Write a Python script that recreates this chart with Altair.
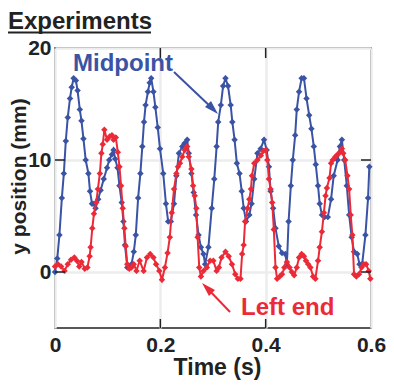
import altair as alt
import pandas as pd

# ---- data ----
mid_t = [0.000, 0.0043, 0.0084, 0.0130, 0.0168, 0.0205, 0.0242, 0.0285, 0.0317, 0.0354,
         0.0397, 0.0429, 0.0471, 0.0503, 0.0540, 0.0583, 0.0634, 0.0665, 0.0703, 0.0740,
         0.0770, 0.0820, 0.0866, 0.0926, 0.0988, 0.1030, 0.1081, 0.1112, 0.1142, 0.1187,
         0.1224, 0.1267, 0.1299, 0.1329, 0.1373, 0.1416, 0.1453, 0.1496, 0.1534, 0.1578,
         0.1621, 0.1658, 0.1690, 0.1720, 0.1765, 0.1798, 0.1826, 0.1869, 0.1906, 0.1951,
         0.1994, 0.2055, 0.2106, 0.2149, 0.2199, 0.2260, 0.2305, 0.2353, 0.2417, 0.2460,
         0.2510, 0.2540, 0.2590, 0.2633, 0.2678, 0.2726, 0.2771, 0.2819, 0.2851, 0.2913,
         0.2976, 0.3024, 0.3069, 0.3099, 0.3149, 0.3192, 0.3237, 0.3285, 0.3336, 0.3367,
         0.3410, 0.3453, 0.3503, 0.3546, 0.3583, 0.3628, 0.3690, 0.3732, 0.3783, 0.3844,
         0.3904, 0.3969, 0.4019, 0.4062, 0.4094, 0.4142, 0.4187, 0.4249, 0.4310, 0.4373,
         0.4403, 0.4435, 0.4478, 0.4515, 0.4560, 0.4590, 0.4634, 0.4683, 0.4727, 0.4776,
         0.4826, 0.4869, 0.4914, 0.4951, 0.4994, 0.5026, 0.5068, 0.5119, 0.5180, 0.5242,
         0.5292, 0.5366, 0.5410, 0.5447, 0.5491, 0.5540, 0.5585, 0.5633, 0.5678, 0.5739,
         0.5782, 0.5832, 0.5894, 0.5944, 0.5968]
mid_y = [0.0, 1.2, 3.3, 6.6, 8.8, 11.7, 13.8, 15.5, 16.5, 17.3,
         17.1, 16.2, 14.5, 13.5, 11.9, 10.0, 8.8, 7.2, 6.1, 6.1,
         5.7, 6.5, 7.3, 8.3, 9.3, 10.0, 10.5, 10.9, 10.1, 9.3,
         7.7, 6.2, 4.5, 2.4, 0.4, 0.4, 0.7, 1.8, 3.3, 6.6,
         8.8, 11.2, 13.4, 14.9, 16.1, 16.9, 17.3, 16.1, 14.7, 12.9,
         11.0, 8.8, 6.1, 4.5, 4.5, 6.1, 8.6, 10.6, 11.2, 11.5,
         11.8, 10.6, 8.8, 7.1, 5.1, 3.3, 2.2, 1.6, 0.7, 2.2,
         5.7, 8.3, 11.2, 13.4, 14.9, 16.6, 17.3, 16.6, 14.9, 13.4,
         11.8, 9.7, 8.8, 7.2, 5.7, 4.5, 5.1, 6.1, 8.3, 10.6,
         11.0, 11.8, 10.9, 9.4, 7.2, 5.7, 3.9, 2.3, 1.7, 1.6,
         0.7, 4.5, 7.7, 10.0, 12.2, 14.5, 16.1, 17.3, 17.3, 15.5,
         14.0, 12.8, 11.2, 9.6, 7.7, 6.1, 5.1, 4.9, 4.9, 6.5,
         8.6, 10.0, 11.2, 11.8, 10.0, 7.7, 5.1, 3.1, 1.8, 1.6,
         0.7, 0.7, 3.3, 6.6, 9.4]

left_t = [0.0000, 0.0056, 0.0117, 0.0181, 0.0242, 0.0304, 0.0367, 0.0416, 0.0460, 0.0503,
          0.0565, 0.0615, 0.0658, 0.0676, 0.0708, 0.0740, 0.0783, 0.0814, 0.0852, 0.0881,
          0.0907, 0.0937, 0.0988, 0.1038, 0.1081, 0.1112, 0.1155, 0.1193, 0.1224, 0.1254,
          0.1286, 0.1317, 0.1342, 0.1373, 0.1411, 0.1453, 0.1496, 0.1547, 0.1608, 0.1683,
          0.1746, 0.1807, 0.1869, 0.1919, 0.1981, 0.2031, 0.2087, 0.2137, 0.2180, 0.2217,
          0.2260, 0.2305, 0.2335, 0.2372, 0.2417, 0.2465, 0.2510, 0.2540, 0.2590, 0.2622,
          0.2652, 0.2683, 0.2708, 0.2739, 0.2771, 0.2819, 0.2883, 0.2944, 0.3006, 0.3069,
          0.3112, 0.3162, 0.3237, 0.3298, 0.3360, 0.3423, 0.3472, 0.3522, 0.3553, 0.3583,
          0.3609, 0.3658, 0.3690, 0.3721, 0.3740, 0.3783, 0.3844, 0.3908, 0.3956, 0.4001,
          0.4031, 0.4062, 0.4094, 0.4124, 0.4155, 0.4187, 0.4217, 0.4267, 0.4310, 0.4355,
          0.4403, 0.4454, 0.4497, 0.4541, 0.4590, 0.4634, 0.4683, 0.4727, 0.4765, 0.4808,
          0.4850, 0.4901, 0.4944, 0.4994, 0.5026, 0.5068, 0.5106, 0.5137, 0.5162, 0.5212,
          0.5242, 0.5273, 0.5323, 0.5366, 0.5410, 0.5447, 0.5473, 0.5510, 0.5553, 0.5585,
          0.5615, 0.5646, 0.5678, 0.5721, 0.5771, 0.5820, 0.5864, 0.5907, 0.5957, 0.5987]
left_y = [0.5, 0.7, 0.5, 0.1, 0.7, 1.1, 1.3, 1.0, 0.5, 0.9,
          0.3, 0.4, 1.4, 2.2, 3.9, 5.2, 6.2, 7.4, 8.8, 10.6,
          11.4, 12.7, 11.8, 12.1, 12.2, 11.8, 12.0, 10.7, 9.4, 7.7,
          5.7, 3.9, 2.3, 0.7, 0.3, 0.4, 0.7, 0.1, 1.0, 0.1,
          1.3, 1.6, 1.3, 0.7, 0.1, -0.7, 0.4, 1.7, 3.1, 5.3,
          7.4, 8.8, 9.4, 9.7, 10.3, 10.9, 11.2, 10.3, 9.2, 7.7,
          6.8, 5.7, 3.1, 0.4, -0.4, 0.1, 0.4, 1.0, 1.0, 0.1,
          0.4, 1.3, 1.8, 1.4, 0.7, -0.2, -0.6, -0.6, 1.6, 2.4,
          4.5, 5.7, 6.5, 7.4, 8.6, 9.7, 10.0, 10.4, 10.8, 10.9,
          10.0, 8.3, 7.4, 6.2, 3.8, 0.4, -0.6, -0.4, -0.2, 0.4,
          0.9, 0.4, 0.0, -0.3, 0.4, 1.3, 1.6, 1.4, 1.0, 0.7,
          0.4, -0.4, -0.6, 1.0, 2.2, 3.6, 5.3, 6.8, 7.5, 8.4,
          9.7, 10.0, 10.3, 10.5, 10.7, 11.0, 10.6, 10.0, 8.6, 7.4,
          5.1, 3.3, -0.2, -0.4, -0.2, 0.4, 0.7, 0.7, 0.1, -0.6]

x_ticks = [0, 0.2, 0.4, 0.6]
y_ticks = [0, 10, 20]
inner_x_ticks = [0.2, 0.4]
inner_y_ticks = [0, 10]

BLUE = "#3a53a4"
RED = "#ec2a37"
INK = "#222222"
FONT = "Liberation Sans"
W, H = 316, 280

mid_df = pd.DataFrame({"t": mid_t, "y": mid_y})
left_df = pd.DataFrame({"t": left_t, "y": left_y})

xscale = alt.Scale(domain=[0, 0.6], nice=False, zero=False)
yscale = alt.Scale(domain=[-5, 20], nice=False, zero=False)

xax = alt.Axis(values=x_ticks, format="~g", grid=True, gridColor="#ececec", gridWidth=2.5,
               ticks=False, tickSize=0, domain=False, labelFlush=False, labelOverlap=False,
               labelFont=FONT, labelFontSize=21, labelFontWeight="bold", labelColor=INK,
               labelPadding=6, title="Time (s)", titleFont=FONT, titleFontSize=23,
               titleFontWeight="bold", titleColor=INK, titleX=162, titleY=46,
               titleBaseline="alphabetic")
yax = alt.Axis(values=y_ticks, grid=True, gridColor="#ececec", gridWidth=2.5,
               ticks=False, tickSize=0, domain=False, labelFlush=False, labelOverlap=False,
               labelFont=FONT, labelFontSize=21, labelFontWeight="bold", labelColor=INK,
               labelPadding=4, title="y position (mm)", titleFont=FONT, titleFontSize=21,
               titleFontWeight="bold", titleColor=INK, titleX=-26, titleY=128,
               titleAngle=270, titleBaseline="bottom")

pt_mid = alt.OverlayMarkDef(shape="diamond", size=42, filled=True, color=BLUE, opacity=1)
pt_left = alt.OverlayMarkDef(shape="diamond", size=42, filled=True, color=RED, opacity=1)

mid_line = alt.Chart(mid_df).mark_line(color=BLUE, strokeWidth=2, point=pt_mid).encode(
    x=alt.X("t:Q", scale=xscale, axis=xax),
    y=alt.Y("y:Q", scale=yscale, axis=yax),
    order="t:Q",
)
left_line = alt.Chart(left_df).mark_line(color=RED, strokeWidth=2, point=pt_left).encode(
    x=alt.X("t:Q", scale=xscale),
    y=alt.Y("y:Q", scale=yscale),
    order="t:Q",
)

# inward ticks
xt_df = pd.DataFrame({"t": inner_x_ticks})
yt_df = pd.DataFrame({"v": inner_y_ticks})
tick_style = dict(color=INK, strokeWidth=1.5)
top_ticks = alt.Chart(xt_df).mark_rule(**tick_style).encode(
    x=alt.X("t:Q", scale=xscale), y=alt.value(0), y2=alt.value(10))
bot_ticks = alt.Chart(xt_df).mark_rule(**tick_style).encode(
    x=alt.X("t:Q", scale=xscale), y=alt.value(H), y2=alt.value(H - 9))
left_ticks = alt.Chart(yt_df).mark_rule(**tick_style).encode(
    y=alt.Y("v:Q", scale=yscale), x=alt.value(0), x2=alt.value(10))
right_ticks = alt.Chart(yt_df).mark_rule(**tick_style).encode(
    y=alt.Y("v:Q", scale=yscale), x=alt.value(W), x2=alt.value(W - 10))

one = alt.Data(values=[{}])
ARROW = "M0,-1L0.6,1L-0.6,1Z"

title_txt = alt.Chart(one).mark_text(text="Experiments", font=FONT, fontSize=24, fontWeight="bold",
                                     color=INK, align="left", baseline="alphabetic").encode(
    x=alt.value(-47), y=alt.value(-19.5))
title_ul = alt.Chart(one).mark_rule(color=INK, strokeWidth=1.8).encode(
    x=alt.value(-47), x2=alt.value(96), y=alt.value(-15.5))

mid_txt = alt.Chart(one).mark_text(text="Midpoint", font=FONT, fontSize=24, fontWeight="bold",
                                   color=BLUE, align="left", baseline="alphabetic").encode(
    x=alt.value(18), y=alt.value(23))
mid_arrow = alt.Chart(one).mark_rule(color=BLUE, strokeWidth=2).encode(
    x=alt.value(119), y=alt.value(24), x2=alt.value(158), y2=alt.value(61))
mid_head = alt.Chart(one).mark_point(shape=ARROW, size=200, filled=True, color=BLUE, opacity=1,
                                     angle=135).encode(x=alt.value(158), y=alt.value(61))

left_txt = alt.Chart(one).mark_text(text="Left end", font=FONT, fontSize=24, fontWeight="bold",
                                    color=RED, align="left", baseline="alphabetic").encode(
    x=alt.value(186), y=alt.value(267))
left_arrow = alt.Chart(one).mark_rule(color=RED, strokeWidth=2).encode(
    x=alt.value(175), y=alt.value(264), x2=alt.value(152), y2=alt.value(240))
left_head = alt.Chart(one).mark_point(shape=ARROW, size=200, filled=True, color=RED, opacity=1,
                                      angle=315).encode(x=alt.value(152), y=alt.value(240))

chart = alt.layer(
    mid_line, left_line,
    top_ticks, bot_ticks, left_ticks, right_ticks,
    title_txt, title_ul, mid_txt, mid_arrow, mid_head, left_txt, left_arrow, left_head,
).properties(
    width=W, height=H,
    autosize=alt.AutoSizeParams(type="none"),
    padding={"left": 47, "top": 40, "right": 15, "bottom": 52},
).configure_view(stroke=INK, strokeWidth=1.5)

chart.save("out.html", embed_options={"renderer": "svg", "actions": False})
